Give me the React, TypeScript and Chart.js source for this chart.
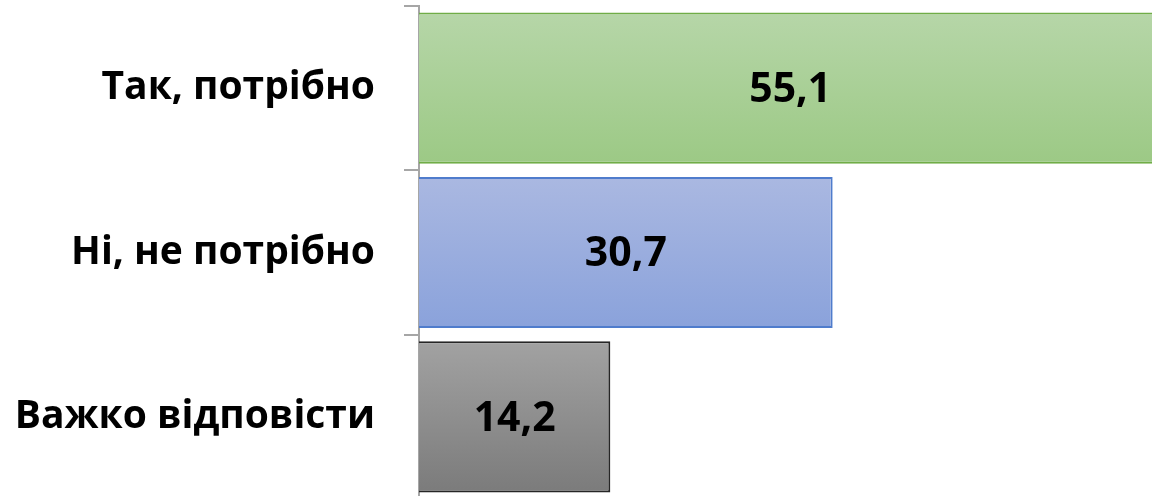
import React, { useEffect, useRef } from "react";
import { Chart, registerables } from "chart.js";

Chart.register(...registerables);

const categories = ["Так, потрібно", "Ні, не потрібно", "Важко відповісти"];
const values = [55.1, 30.7, 14.2];
const valueLabels = ["55,1", "30,7", "14,2"];
const topColors = ["#b6d6a8", "#aab8e1", "#a2a2a2"];
const bottomColors = ["#9cc985", "#8aa2db", "#7b7b7b"];
const borderColors = ["#70ad47", "#4f7ccc", "#262626"];

const valuePlugin = {
  id: "valueLabels",
  afterDatasetsDraw(chart: any) {
    const ctx = chart.ctx;
    const meta = chart.getDatasetMeta(0);
    ctx.save();
    ctx.font = "bold 41px 'Open Sans'";
    ctx.fillStyle = "#000000";
    ctx.textAlign = "center";
    ctx.textBaseline = "middle";
    meta.data.forEach((bar: any, i: number) => {
      const cx = (bar.base + bar.x) / 2;
      ctx.fillText(valueLabels[i], cx, bar.y + 2);
    });
    ctx.restore();
  },
};

export default function App() {
  const ref = useRef<HTMLCanvasElement>(null);
  useEffect(() => {
    if (!ref.current) return;
    const chart = new Chart(ref.current, {
      type: "bar",
      data: {
        labels: categories,
        datasets: [
          {
            data: values,
            backgroundColor: (c: any) => {
              const ch = c.chart;
              const ys = ch.scales && ch.scales.y;
              if (!ch.chartArea || !ys || c.dataIndex === undefined) return topColors[c.dataIndex || 0];
              const center = ys.getPixelForValue(c.dataIndex);
              const half = 76;
              const g = ch.ctx.createLinearGradient(0, center - half, 0, center + half);
              g.addColorStop(0, topColors[c.dataIndex]);
              g.addColorStop(1, bottomColors[c.dataIndex]);
              return g;
            },
            borderColor: borderColors,
            borderWidth: 2,
            categoryPercentage: 1,
            barPercentage: 0.92,
          },
        ],
      },
      options: {
        indexAxis: "y",
        animation: false,
        responsive: false,
        maintainAspectRatio: false,
        layout: { padding: { top: 6, bottom: 1, left: 0, right: 0 } },
        plugins: { legend: { display: false }, tooltip: { enabled: false } },
        scales: {
          x: { display: false, min: 0, max: 54.4 },
          y: {
            afterFit: (s: any) => {
              s.width = 419;
              s.paddingTop = 0;
              s.paddingBottom = 0;
            },
            grid: {
              offset: true,
              drawOnChartArea: false,
              drawTicks: true,
              tickLength: 15,
              color: "#a6a6a6",
              lineWidth: 2,
            },
            border: { display: true, color: "#a6a6a6", width: 2 },
            ticks: {
              padding: 29,
              color: "#000000",
              font: { family: "'Open Sans'", weight: "bold", size: 39 },
            },
          },
        },
      },
      plugins: [valuePlugin],
    } as any);
    return () => chart.destroy();
  }, []);
  return (
    <div style={{ position: "fixed", left: 0, top: 0, width: 1152, height: 500, overflow: "hidden", background: "#fff" }}>
      <canvas ref={ref} width={1152} height={500} style={{ width: 1152, height: 500, display: "block" }} />
    </div>
  );
}
